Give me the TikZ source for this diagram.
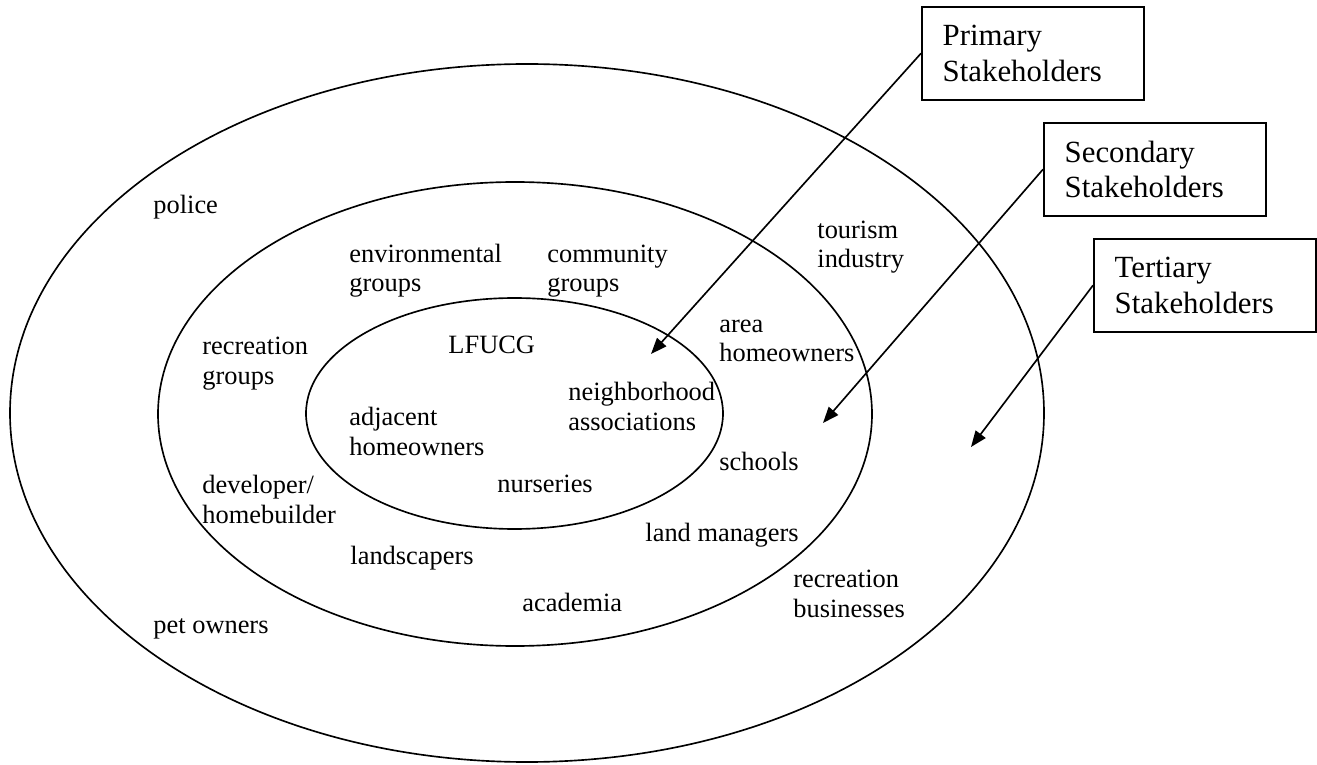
\documentclass[tikz,border=0pt]{standalone}
\usepackage{fontspec}
\setmainfont{Liberation Serif}
\usetikzlibrary{arrows.meta}

\tikzset{
  ring/.style={draw=black, line width=0.75pt},
  grouplabel/.style={anchor=base west, align=left, inner sep=0pt,
    font=\fontsize{12}{13.6}\selectfont},
  tierbox/.style={draw=black, line width=0.75pt, anchor=north west,
    text width=82pt, inner xsep=9.5pt, minimum height=42.3pt, align=left,
    font=\fontsize{14}{16}\selectfont},
  tierarrow/.style={-{Triangle[length=7.3pt, width=5.6pt]}, line width=0.75pt},
}

\begin{document}
\begin{tikzpicture}[x=0.4545pt, y=-0.4545pt]
    \useasboundingbox (0,0) rectangle (1317,765);

    % Stakeholder rings
    \draw[ring] (527,413) ellipse [x radius=517, y radius=349];
    \draw[ring] (515,414) ellipse [x radius=357, y radius=232];
    \draw[ring] (514.5,413.5) ellipse [x radius=208.5, y radius=115.5];

    % Tertiary ring (two-line labels sit on their last baseline)
    \node[grouplabel] (police) at (153,214) {police};
    \node[grouplabel] (tourism) at (817,268) {tourism\\industry};
    \node[grouplabel] (recbiz) at (793,617) {recreation\\businesses};
    \node[grouplabel] (petowners) at (153,633) {pet owners};

    % Secondary ring
    \node[grouplabel] (envgroups) at (349,292) {environmental\\groups};
    \node[grouplabel] (commgroups) at (547,292) {community\\groups};
    \node[grouplabel] (areahomes) at (719,362) {area\\homeowners};
    \node[grouplabel] (recgroups) at (202,384) {recreation\\groups};
    \node[grouplabel] (schools) at (719,470) {schools};
    \node[grouplabel] (developer) at (202,523) {developer/\\homebuilder};
    \node[grouplabel] (landmgr) at (645,541) {land managers};
    \node[grouplabel] (landscapers) at (350,564) {landscapers};
    \node[grouplabel] (academia) at (522,611) {academia};

    % Primary ring
    \node[grouplabel] (lfucg) at (448,354) {LFUCG};
    \node[grouplabel] (neighbors) at (568,430) {neighborhood\\associations};
    \node[grouplabel] (adjhomes) at (349,455) {adjacent\\homeowners};
    \node[grouplabel] (nurseries) at (497,493) {nurseries};

    % Tier boxes and their pointers
    \node[tierbox] (primary) at (921,6) {Primary\\Stakeholders};
    \node[tierbox] (secondary) at (1043,122) {Secondary\\Stakeholders};
    \node[tierbox] (tertiary) at (1093,238) {Tertiary\\Stakeholders};

    \coordinate (primtip) at (651,354);
    \coordinate (sectip) at (823,423);
    \coordinate (tertip) at (971,447);

    \draw[tierarrow] (primary.west) -- (primtip);
    \draw[tierarrow] (secondary.west) -- (sectip);
    \draw[tierarrow] (tertiary.west) -- (tertip);

\end{tikzpicture}
\end{document}
